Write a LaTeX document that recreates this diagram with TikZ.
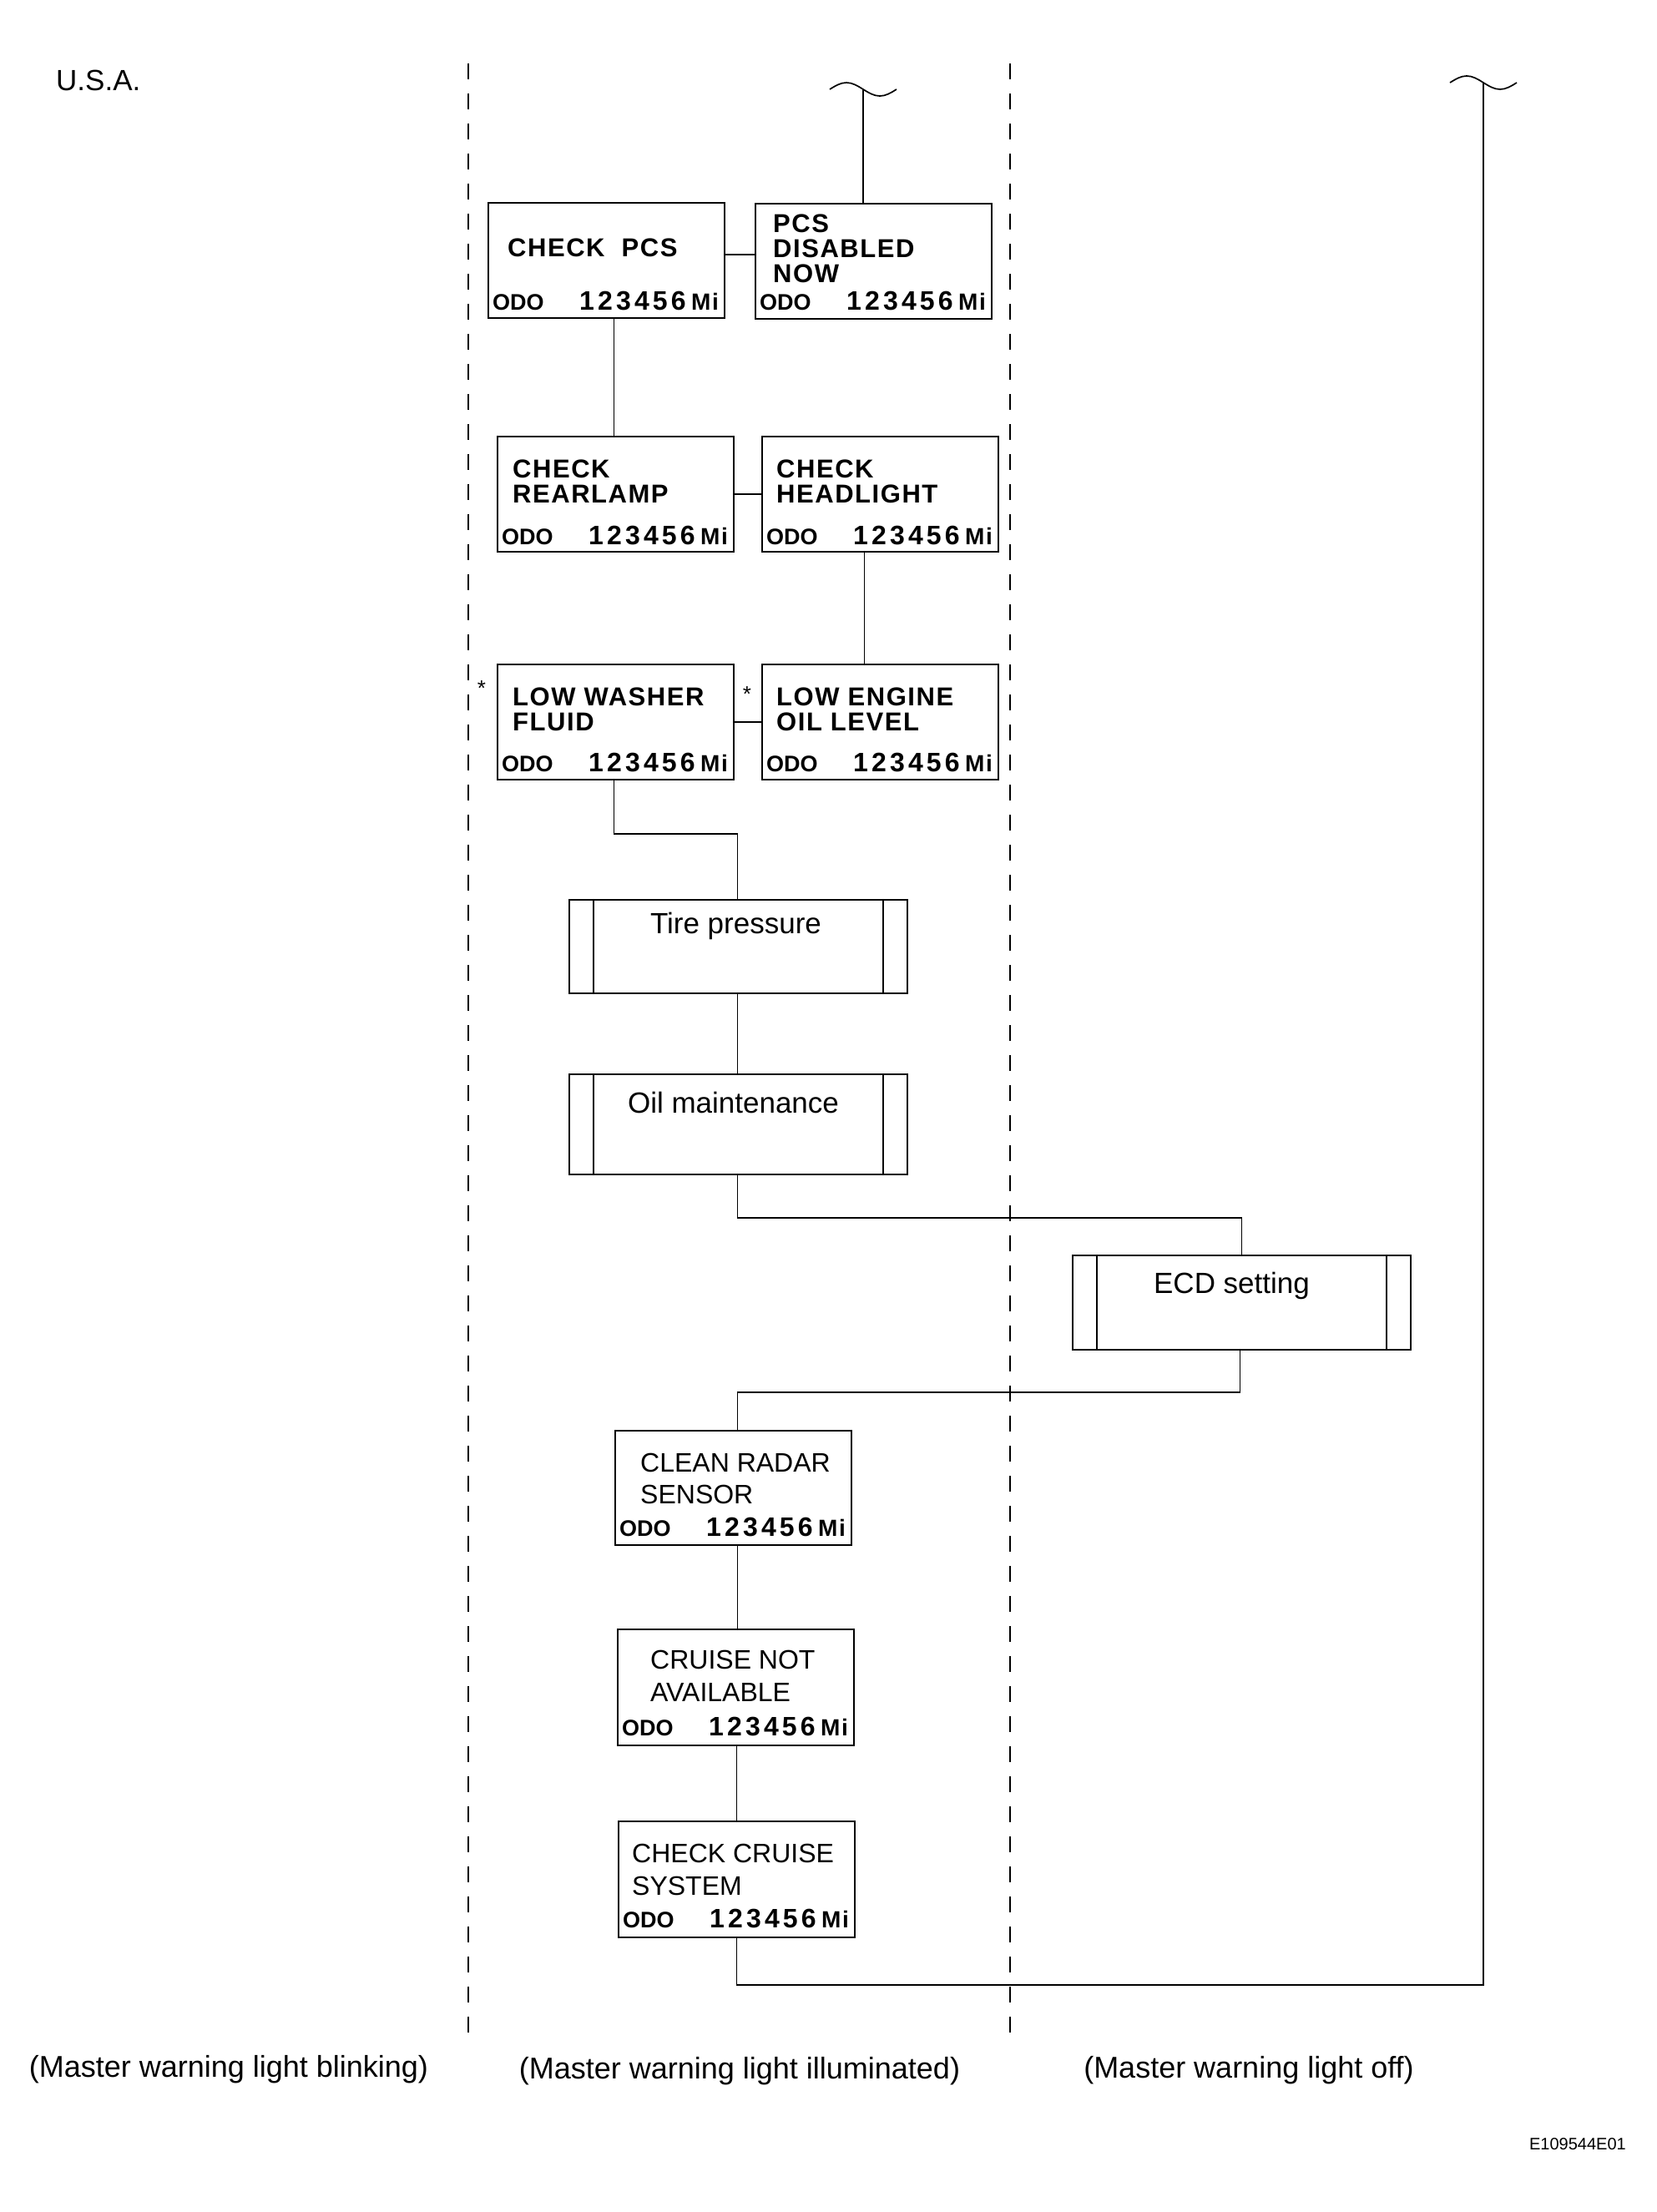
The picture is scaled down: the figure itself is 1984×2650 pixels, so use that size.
\documentclass[tikz,border=0pt]{standalone}
\usepackage{fontspec}
\setmainfont{Liberation Sans}
\newfontfamily\lcdfont{Liberation Sans}[LetterSpace=5]
\newfontfamily\numfont{Liberation Sans}[LetterSpace=13]
\newfontfamily\mifont{Liberation Sans}[LetterSpace=6]
\usetikzlibrary{calc}
\tikzset{
  lcdbox/.style={draw, line width=2pt, rectangle, inner sep=0pt, anchor=north west, minimum width=283pt, minimum height=138pt},
  procbox/.style={draw, line width=2pt, rectangle, inner sep=0pt, anchor=north west, minimum width=405pt},
  conn/.style={line width=1.8pt},
  sepline/.style={line width=1.5pt, dash pattern=on 19pt off 17pt},
  ttl/.style={inner sep=0pt, anchor=base west, font=\lcdfont\bfseries\fontsize{31}{31}\selectfont},
  ttlb/.style={inner sep=0pt, anchor=base west, font=\fontsize{32}{32}\selectfont},
  odotxt/.style={inner sep=0pt, anchor=base west, font=\bfseries\fontsize{27}{27}\selectfont},
  numtxt/.style={inner sep=0pt, anchor=base west, font=\numfont\bfseries\fontsize{32}{32}\selectfont},
  mitxt/.style={inner sep=0pt, anchor=base west, font=\mifont\bfseries\fontsize{28}{28}\selectfont},
  proctxt/.style={inner sep=0pt, anchor=base, font=\fontsize{35}{35}\selectfont},
  lbl/.style={inner sep=0pt, anchor=base, font=\fontsize{36}{36}\selectfont},
  tildeline/.style={line width=1.7pt},
}
\newcommand{\odorow}[2]{%
  \node[odotxt] (#1-odo) at ($(#1.north west)+(6,#2)$) {ODO};
  \node[numtxt] (#1-num) at ($(#1.north west)+(110,#2)$) {123456};
  \node[mitxt] (#1-mi) at ($(#1.north west)+(244,#2)$) {Mi};
}
\newcommand{\innerlines}[1]{%
  \draw[line width=1.8pt] ([xshift=30pt]#1.north west) -- ([xshift=30pt]#1.south west);
  \draw[line width=1.8pt] ([xshift=-30pt]#1.north east) -- ([xshift=-30pt]#1.south east);
}
\begin{document}
\begin{tikzpicture}[x=1pt,y=-1pt]
\useasboundingbox (0,0) rectangle (1984,2650);
\fill[white] (0,0) rectangle (1984,2650);

% separators
\draw[sepline] (561,76) coordinate (sA1) -- (561,2448) coordinate (sA2);
\draw[sepline] (1210,76) coordinate (sB1) -- (1210,2448) coordinate (sB2);

\node[inner sep=0pt, anchor=base west, font=\fontsize{35}{35}\selectfont] (usa) at (67,108) {U.S.A.};

% LCD boxes upper
\node[lcdbox] (pcs) at (584,242) {};
\node[lcdbox] (dis) at (904,243) {};
\node[lcdbox] (rear) at (595,522) {};
\node[lcdbox] (head) at (912,522) {};
\node[lcdbox] (wash) at (595,795) {};
\node[lcdbox] (eng) at (912,795) {};

\node[ttl] (pcs-t1) at ($(pcs.north west)+(24,65)$) {CHECK\hspace{20pt}PCS};
\node[ttl] (dis-t1) at ($(dis.north west)+(22,35)$) {PCS};
\node[ttl] (dis-t2) at ($(dis.north west)+(22,65)$) {DISABLED};
\node[ttl] (dis-t3) at ($(dis.north west)+(22,95)$) {NOW};
\node[ttl] (rear-t1) at ($(rear.north west)+(19,50)$) {CHECK};
\node[ttl] (rear-t2) at ($(rear.north west)+(19,80)$) {REARLAMP};
\node[ttl] (head-t1) at ($(head.north west)+(18,50)$) {CHECK};
\node[ttl] (head-t2) at ($(head.north west)+(18,80)$) {HEADLIGHT};
\node[ttl] (wash-t1) at ($(wash.north west)+(19,50)$) {LOW\hspace{10pt}WASHER};
\node[ttl] (wash-t2) at ($(wash.north west)+(19,80)$) {FLUID};
\node[ttl] (eng-t1) at ($(eng.north west)+(18,50)$) {LOW\hspace{10pt}ENGINE};
\node[ttl] (eng-t2) at ($(eng.north west)+(18,80)$) {OIL\hspace{10pt}LEVEL};

\odorow{pcs}{129}
\odorow{dis}{128}
\odorow{rear}{130}
\odorow{head}{130}
\odorow{wash}{129}
\odorow{eng}{129}

\node[inner sep=0pt, anchor=base, font=\fontsize{26}{26}\selectfont] (ast1) at (577,833) {*};
\node[inner sep=0pt, anchor=base, font=\fontsize{26}{26}\selectfont] (ast2) at (895,840) {*};

% process boxes
\node[procbox, minimum height=112pt] (tire) at (681,1077) {};
\node[procbox, minimum height=120pt] (oil) at (681,1286) {};
\node[procbox, minimum height=113pt] (ecd) at (1284,1503) {};
\innerlines{tire}
\innerlines{oil}
\innerlines{ecd}
\node[proctxt] (tire-t) at ($(tire.north)+(-3,41)$) {Tire pressure};
\node[proctxt] (oil-t) at ($(oil.north)+(-6,47)$) {Oil maintenance};
\node[proctxt] (ecd-t) at ($(ecd.north)+(-12,46)$) {ECD setting};

% LCD boxes lower
\node[lcdbox, minimum height=137pt] (clean) at (736,1713) {};
\node[lcdbox, minimum height=139pt] (cruise) at (739,1951) {};
\node[lcdbox, minimum height=139pt] (chk) at (740,2181) {};
\node[ttlb] (clean-t1) at ($(clean.north west)+(31,50)$) {CLEAN RADAR};
\node[ttlb] (clean-t2) at ($(clean.north west)+(31,88)$) {SENSOR};
\node[ttlb] (cruise-t1) at ($(cruise.north west)+(40,48)$) {CRUISE NOT};
\node[ttlb] (cruise-t2) at ($(cruise.north west)+(40,87)$) {AVAILABLE};
\node[ttlb] (chk-t1) at ($(chk.north west)+(17,50)$) {CHECK CRUISE};
\node[ttlb] (chk-t2) at ($(chk.north west)+(17,89)$) {SYSTEM};
\odorow{clean}{127}
\odorow{cruise}{128}
\odorow{chk}{128}

% tildes
\coordinate (t1) at (1034,107);
\coordinate (t2) at (1777,99);
\draw[tildeline] ($(t1)+(-40,0)$) sin ++(20,-8) cos ++(20,8) sin ++(20,8) cos ++(20,-8);
\draw[tildeline] ($(t2)+(-40,0)$) sin ++(20,-8) cos ++(20,8) sin ++(20,8) cos ++(20,-8);

% connectors
\draw[conn] (t1) -- (t1 |- dis.north);
\draw[conn] ([yshift=7pt]pcs.east) -- ([yshift=7pt]pcs.east -| dis.west);
\draw[conn] ([xshift=-2pt]rear.north) -- ([xshift=-2pt]rear.north |- pcs.south);
\draw[conn] (rear.east) -- (rear.east -| head.west);
\draw[conn] ([xshift=-19pt]head.south) -- ([xshift=-19pt]eng.north);
\draw[conn] (wash.east) -- (wash.east -| eng.west);
\draw[conn] ([xshift=-2pt]wash.south) -- ++(0,64) -| ([xshift=-1pt]tire.north);
\draw[conn] ([xshift=-1pt]tire.south) -- ([xshift=-1pt]oil.north);
\draw[conn] ([xshift=-1pt]oil.south) -- ++(0,51) -| (ecd.north);
\draw[conn] ([xshift=-2pt]ecd.south) -- ++(0,50) -| ([xshift=5pt]clean.north);
\draw[conn] ([xshift=5pt]clean.south) -- ([xshift=5pt]clean.south |- cruise.north);
\draw[conn] ([xshift=1pt]cruise.south) -- ([xshift=1pt]cruise.south |- chk.north);
\draw[conn] (chk.south) -- ++(0,56) -| (t2);

% labels
\node[lbl] (lblA) at (274,2488) {(Master warning light blinking)};
\node[lbl] (lblB) at (886,2490) {(Master warning light illuminated)};
\node[lbl] (lblC) at (1496,2489) {(Master warning light off)};
\node[inner sep=0pt, anchor=base east, font=\fontsize{20}{20}\selectfont] (code) at (1948,2575) {E109544E01};
\end{tikzpicture}
\end{document}
